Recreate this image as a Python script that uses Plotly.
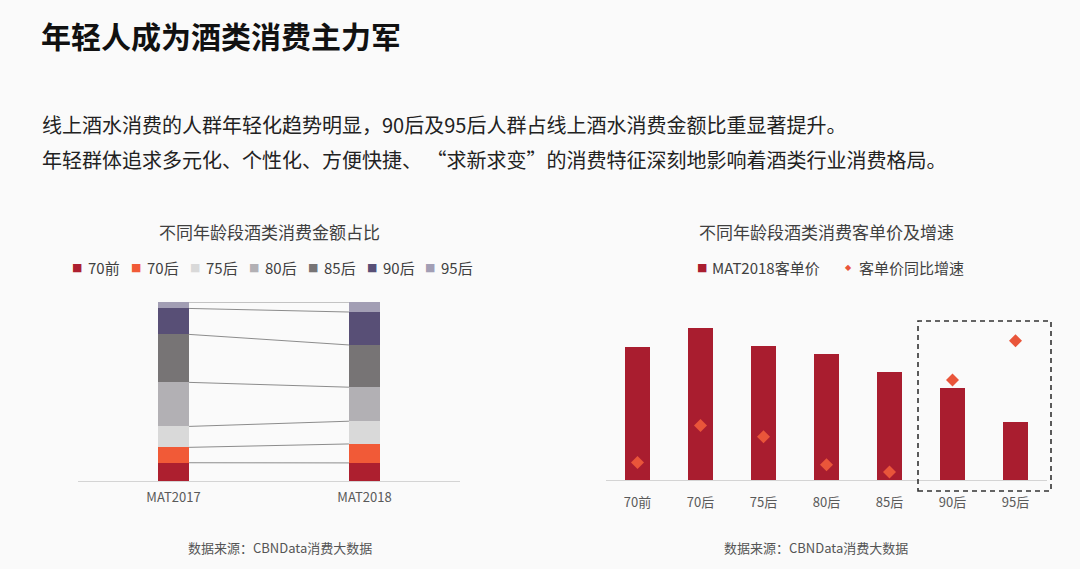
import plotly.graph_objects as go
import numpy as np

# ---------------- data ----------------
periods = ["MAT2017", "MAT2018"]
age_groups = ["70前", "70后", "75后", "80后", "85后", "90后", "95后"]
share_2017 = [10.2, 8.6, 11.7, 24.6, 26.8, 14.5, 3.6]   # % of spend
share_2018 = [10.1, 10.6, 12.7, 19.0, 23.6, 18.4, 5.6]
share_colors = ["#ad1f2f", "#f15a37", "#d9d9d9", "#b2b0b4", "#777475", "#584f76", "#a29eb4"]

price_2018 = [133, 152, 134, 126, 108, 92, 58]           # 客单价 (relative)
price_growth = [2.2, 6.8, 5.4, 1.9, 1.0, 12.5, 17.4]     # 同比增速 (%)
price_color = "#a91d2f"
growth_color = "#e9553a"

FONT = "Noto Sans CJK SC"
W, H = 1080, 569
BG = "#fafafa"


def px(x):
    return x / W


def py(y):
    return 1 - y / H


fig = go.Figure()

# ---------------- left: stacked share bars ----------------
bar_w_left = 0.163
for i, g in enumerate(age_groups):
    fig.add_trace(go.Bar(
        x=[0, 1], y=[share_2017[i], share_2018[i]], name=g,
        marker=dict(color=share_colors[i], line=dict(width=0)),
        width=bar_w_left, xaxis="x", yaxis="y", showlegend=False,
        hovertemplate=g + " %{y}%<extra></extra>",
    ))

cum17 = np.cumsum(share_2017)
cum18 = np.cumsum(share_2018)
for i in range(len(age_groups)):
    fig.add_trace(go.Scatter(
        x=[0 + bar_w_left / 2, 1 - bar_w_left / 2], y=[cum17[i], cum18[i]],
        mode="lines", line=dict(color="#8c8c8c", width=1),
        xaxis="x", yaxis="y", showlegend=False, hoverinfo="skip",
    ))

# ---------------- right: price bars + growth diamonds ----------------
fig.add_trace(go.Bar(
    x=age_groups, y=price_2018, name="MAT2018客单价",
    marker=dict(color=price_color, line=dict(width=0)), width=0.4,
    xaxis="x2", yaxis="y2", showlegend=False,
))
fig.add_trace(go.Scatter(
    x=age_groups, y=price_growth, name="客单价同比增速", mode="markers",
    marker=dict(symbol="diamond", size=10, color=growth_color),
    xaxis="x2", yaxis="y3", showlegend=False,
))


def note(text, x, y, size, color, anchor="left", family=FONT):
    return dict(text=text, x=px(x), y=py(y), xref="paper", yref="paper",
                xanchor=anchor, yanchor="middle", showarrow=False,
                font=dict(size=size, color=color, family=family))


# ---------------- layout ----------------
annotations = [
    note("<b>年轻人成为酒类消费主力军</b>", 39, 35, 30, "#111111"),
    note("线上酒水消费的人群年轻化趋势明显，90后及95后人群占线上酒水消费金额比重显著提升。", 40, 125, 20, "#222222"),
    note("年轻群体追求多元化、个性化、方便快捷、 “求新求变”的消费特征深刻地影响着酒类行业消费格局。", 40, 159, 20, "#222222"),
    note("不同年龄段酒类消费金额占比", 269, 232, 17, "#404040", "center"),
    note("不同年龄段酒类消费客单价及增速", 826, 232, 17, "#404040", "center"),
    note("数据来源：CBNData消费大数据", 280, 547, 13, "#555555", "center"),
    note("数据来源：CBNData消费大数据", 816, 547, 13, "#555555", "center"),
]

# left legend (manual)
for i, g in enumerate(age_groups):
    x0 = 77 + i * 58.9
    annotations.append(note("■", x0, 267, 11, share_colors[i], "center", "DejaVu Sans"))
    annotations.append(note(g, x0 + 9, 267, 15, "#404040"))

# right legend (manual)
annotations.append(note("■", 702, 267, 11, price_color, "center", "DejaVu Sans"))
annotations.append(note("MAT2018客单价", 710, 267, 15, "#404040"))
annotations.append(note("◆", 848, 267, 8, growth_color, "center", "DejaVu Sans"))
annotations.append(note("客单价同比增速", 857, 267, 15, "#404040"))

shapes = [
    dict(type="rect", xref="paper", yref="paper",
         x0=px(918), x1=px(1051), y0=py(491), y1=py(321),
         line=dict(color="#333333", width=1.6, dash="5px,4px"), fillcolor="rgba(0,0,0,0)"),
]

fig.update_layout(
    width=W, height=H,
    margin=dict(l=0, r=0, t=0, b=0),
    paper_bgcolor=BG, plot_bgcolor=BG,
    barmode="stack", bargap=0,
    font=dict(family=FONT, color="#595959"),
    showlegend=False,
    annotations=annotations,
    shapes=shapes,
    xaxis=dict(domain=[px(78), px(460)], range=[-0.5, 1.5], tickvals=[0, 1], ticktext=periods,
               showline=True, linecolor="#d4d4d4", linewidth=1, showgrid=False, zeroline=False,
               ticks="", tickfont=dict(size=13, color="#595959", family=FONT), anchor="y",
               ticklabelstandoff=4, fixedrange=True),
    yaxis=dict(domain=[py(481), py(302)], range=[0, 100], visible=False, anchor="x", fixedrange=True),
    xaxis2=dict(domain=[px(606), px(1047)], range=[-0.5, 6.5], type="category",
                showline=True, linecolor="#d4d4d4", linewidth=1, showgrid=False, zeroline=False,
                ticks="", tickfont=dict(size=13, color="#595959", family=FONT), anchor="y2",
                ticklabelstandoff=10, fixedrange=True),
    yaxis2=dict(domain=[py(480), py(320)], range=[0, 160], visible=False, anchor="x2", fixedrange=True),
    yaxis3=dict(domain=[py(480), py(320)], range=[0, 20], visible=False, overlaying="y2",
                anchor="x2", fixedrange=True),
)

fig.write_html("out.html")
